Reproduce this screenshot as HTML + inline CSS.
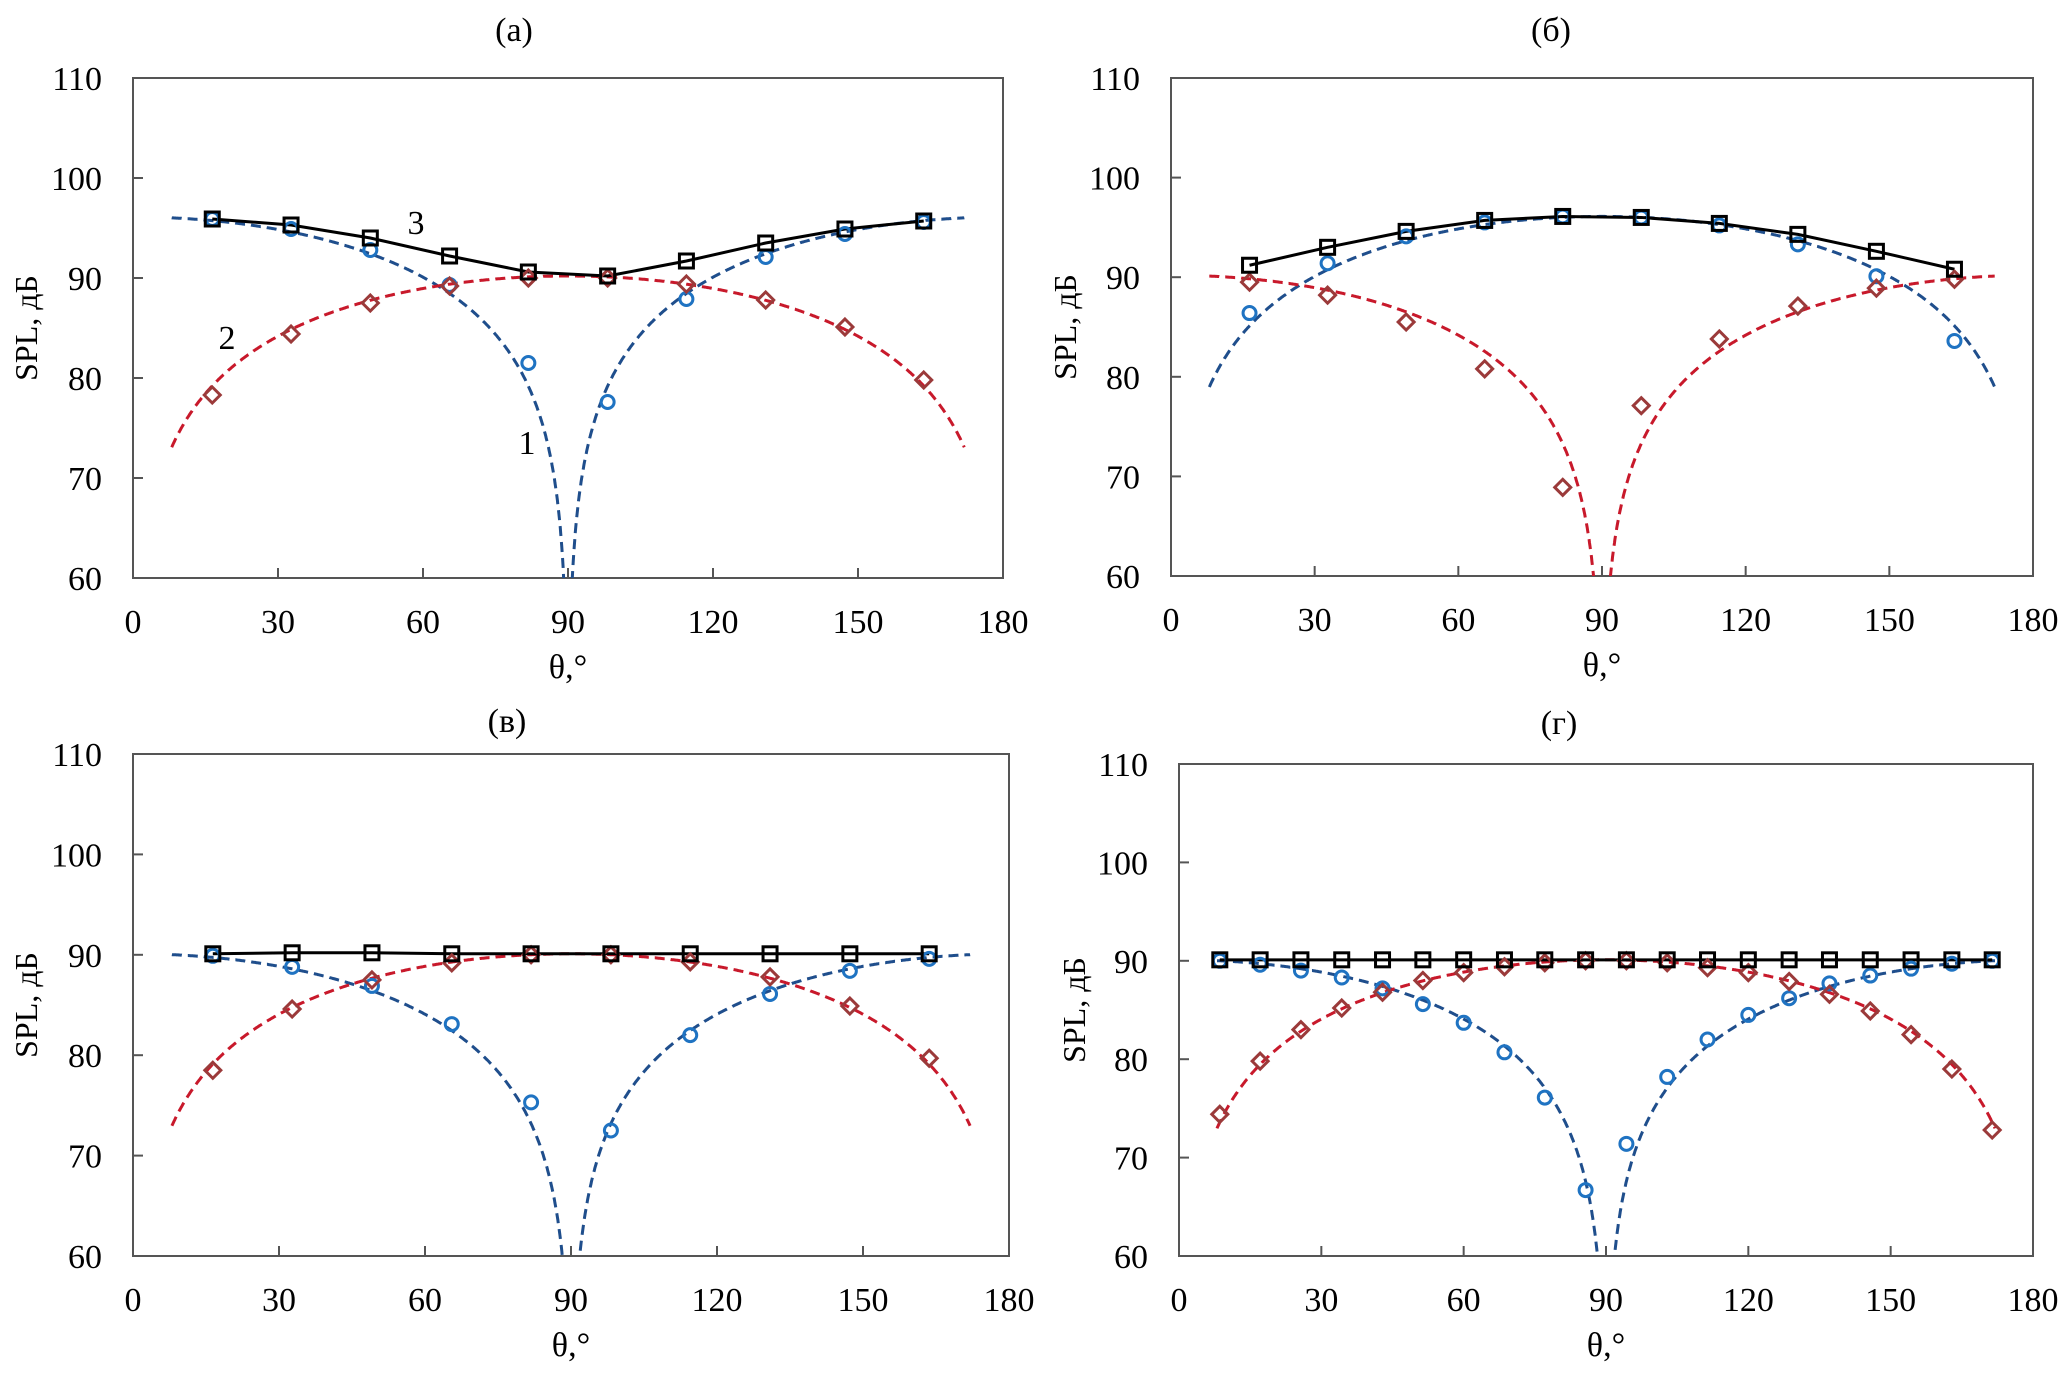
<!DOCTYPE html>
<html><head><meta charset="utf-8">
<style>
html,body{margin:0;padding:0;background:#fff;}
svg{display:block;font-family:"Liberation Serif","DejaVu Serif",serif;}
</style></head>
<body>
<svg id="fig" width="2066" height="1386" viewBox="0 0 2066 1386" xmlns="http://www.w3.org/2000/svg"></svg>
<script>
// ---- data ----
const xTicks = [0,30,60,90,120,150,180];
const yTicks = [60,70,80,90,100,110];
const thetaA = [16.4,32.7,49.1,65.5,81.8,98.2,114.5,130.9,147.3,163.6];
const thetaG = [8.6,17.1,25.7,34.3,42.9,51.4,60.0,68.6,77.1,85.7,94.3,102.9,111.4,120.0,128.6,137.1,145.7,154.3,162.9,171.4];

const aTotal = [95.9,95.3,94.0,92.2,90.6,90.2,91.7,93.5,94.9,95.7];
const aCirc  = [95.9,94.9,92.8,89.3,81.5,77.6,87.9,92.1,94.4,95.6];
const aDiam  = [78.3,84.4,87.5,89.2,90.0,90.0,89.4,87.8,85.1,79.8];

const bTotal = [91.2,93.0,94.6,95.7,96.1,96.0,95.4,94.3,92.6,90.8];
const bCirc  = [86.4,91.4,94.1,95.5,96.1,96.0,95.2,93.3,90.1,83.6];
const bDiam  = [89.5,88.2,85.5,80.8,68.9,77.1,83.8,87.1,88.9,89.8];

const vTotal = [90.1,90.2,90.2,90.1,90.1,90.1,90.1,90.1,90.1,90.1];
const vCirc  = [89.9,88.8,86.9,83.1,75.3,72.5,82.0,86.1,88.4,89.6];
const vDiam  = [78.5,84.6,87.5,89.2,90.0,90.0,89.3,87.8,84.9,79.7];

const gTotal = [90.1,90.1,90.1,90.1,90.1,90.1,90.1,90.1,90.1,90.1,90.1,90.1,90.1,90.1,90.1,90.1,90.1,90.1,90.1,90.1];
const gCirc  = [90.0,89.6,89.0,88.3,87.2,85.6,83.7,80.7,76.1,66.7,71.4,78.2,82.0,84.5,86.2,87.7,88.5,89.2,89.7,90.0];
const gDiam  = [74.4,79.8,83.0,85.2,86.8,88.0,88.8,89.4,89.8,90.0,90.0,89.8,89.3,88.8,87.9,86.6,84.9,82.5,79.0,72.8];

// theoretical curve levels (dB) and type: 'cos' dips at 90, 'sin' peaks at 90
const curveLevels = {a:[96.1,90.2], b:[96.1,90.2], v:[90.1,90.1], g:[90.1,90.1]};
const curveTypes  = {a:['cos','sin'], b:['sin','cos'], v:['cos','sin'], g:['cos','sin']};

const NS="http://www.w3.org/2000/svg";
const svg=document.getElementById('fig');
function mk(tag,attrs,parent){const e=document.createElementNS(NS,tag);for(const k in attrs)e.setAttribute(k,attrs[k]);(parent||svg).appendChild(e);return e;}

const panels=[
 {id:'a',title:'(a)',L:133,R:1003,T:78,B:578,tx:514,ty:41,yt:26,th:thetaA,tot:aTotal,c:aCirc,d:aDiam},
 {id:'b',title:'(б)',L:1171,R:2033,T:78,B:576,tx:1551,ty:41,yt:1065,th:thetaA,tot:bTotal,c:bCirc,d:bDiam},
 {id:'v',title:'(в)',L:133,R:1009,T:754,B:1256,tx:507,ty:732,yt:26,th:thetaA,tot:vTotal,c:vCirc,d:vDiam},
 {id:'g',title:'(г)',L:1179,R:2033,T:764,B:1256,tx:1559,ty:734,yt:1074,th:thetaG,tot:gTotal,c:gCirc,d:gDiam}
];

panels.forEach(p=>{
 const g=mk('g',{});
 
 
 const X=v=>p.L+(v-0)/180*(p.R-p.L);
 const Y=v=>p.B-(v-60)/50*(p.B-p.T);
 const clip=mk('clipPath',{id:'clip-'+p.id},g);
 mk('rect',{x:p.L,y:p.T,width:p.R-p.L,height:p.B-p.T},clip);
 const t=mk('text',{x:p.tx,y:p.ty,'text-anchor':'middle','font-size':34,fill:'#000'},g);
 t.textContent=p.title;
 
 
 const box=mk('rect',{x:p.L,y:p.T,width:p.R-p.L,height:p.B-p.T,fill:'none',stroke:'#555','stroke-width':2},g);
 
 
 yTicks.forEach(v=>{
  mk('line',{x1:p.L,x2:p.L+10,y1:Y(v),y2:Y(v),stroke:'#555','stroke-width':2},g);
  const tl=mk('text',{x:p.L-31,y:Y(v)+12,'text-anchor':'end','font-size':34},g);
  tl.textContent=v;
  
  
 });
 xTicks.forEach(v=>{
  mk('line',{x1:X(v),x2:X(v),y1:p.B,y2:p.B-10,stroke:'#555','stroke-width':2},g);
  const tl=mk('text',{x:X(v),y:p.B+55,'text-anchor':'middle','font-size':34},g);
  tl.textContent=v;
  
  
 });
 const xt=mk('text',{x:(p.L+p.R)/2,y:p.B+100,'text-anchor':'middle','font-size':34},g);
 xt.textContent='θ,°';
 
 
 const ym=(p.T+p.B)/2;
 const yt=mk('text',{x:p.yt,y:ym,'text-anchor':'middle','font-size':32,transform:`rotate(-90 ${p.yt} ${ym}) translate(0 11)`},g);
 yt.textContent='SPL, дБ';
 
 
 // curves
 const cols=['#1f4e8c','#c8192b'];
 [0,1].forEach(i=>{
  const lvl=curveLevels[p.id][i], typ=curveTypes[p.id][i];
  let d='';let pen=false;
  for(let th=8;th<=172.001;th+=0.1){
   const r=th*Math.PI/180;
   const f=Math.abs(typ==='cos'?Math.cos(r):Math.sin(r));
   let val=f<1e-6?-1e9:lvl+20*Math.log10(f);
   if(val<55){pen=false;continue;}
   d+=(pen?'L':'M')+X(th).toFixed(1)+' '+Y(val).toFixed(1);pen=true;
  }
  const c=mk('path',{d:d,fill:'none',stroke:cols[i],'stroke-width':3,'stroke-dasharray':'10 6','clip-path':`url(#clip-${p.id})`},g);
  
  
 });
 // total line
 const ln=mk('polyline',{points:p.th.map((th,k)=>X(th)+','+Y(p.tot[k])).join(' '),fill:'none',stroke:'#000','stroke-width':3},g);
 
 
 p.th.forEach((th,k)=>{
  const c=mk('circle',{cx:X(th),cy:Y(p.c[k]),r:6.5,fill:'none',stroke:'#1f73c2','stroke-width':3},g);
  
  
 });
 p.th.forEach((th,k)=>{
  const x=X(th),y=Y(p.d[k]),s=8;
  const dm=mk('polygon',{points:`${x},${y-s} ${x+s},${y} ${x},${y+s} ${x-s},${y}`,fill:'none',stroke:'#9b3a3a','stroke-width':3},g);
  
  
 });
 p.th.forEach((th,k)=>{
  const x=X(th),y=Y(p.tot[k]),s=7;
  const sq=mk('rect',{x:x-s,y:y-s,width:2*s,height:2*s,fill:'none',stroke:'#000','stroke-width':3},g);
  
  
 });
 if(p.id==='a'){
  [['3',416,234],['2',227,349],['1',527,454]].forEach(a=>{
   const lt=mk('text',{x:a[1],y:a[2],'text-anchor':'middle','font-size':34},g);
   lt.textContent=a[0];
   
   
  });
 }
});
</script>
</body></html>
